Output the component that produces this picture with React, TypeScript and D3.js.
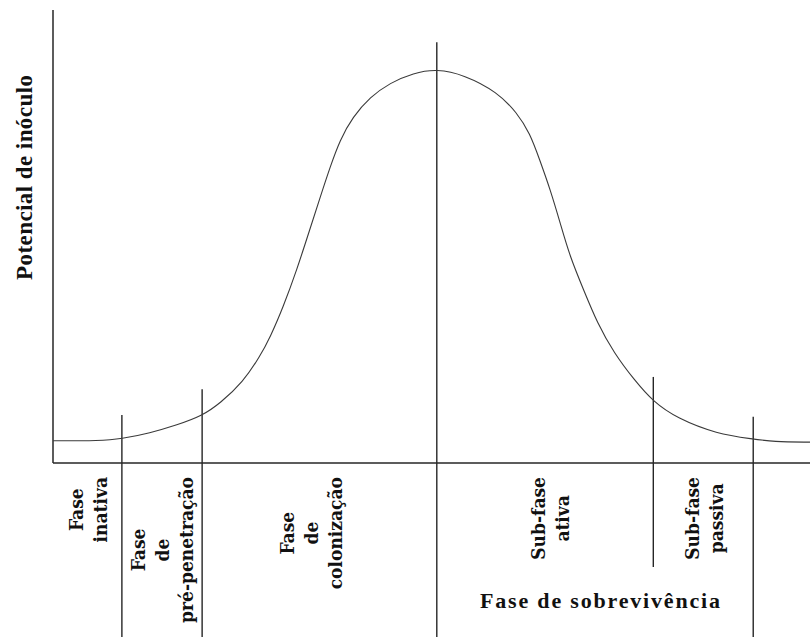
import React, { useEffect, useRef } from 'react';
import * as d3 from 'd3';

// curve: time (0-100 along the axis) vs potential (0-100 of axis height)
const curveTime = [0, 6.2, 9.0, 12.8, 16.4, 19.7, 22.1, 25.1, 27.3, 28.7, 30.4, 32.2, 33.9, 35.3, 36.6, 37.9, 39.6, 41.9, 44.5, 47.6, 50.7, 54.3, 58.7, 61.3, 63.0, 64.3, 65.7, 67.0, 68.3, 70.1, 71.9, 74.1, 76.8, 79.3, 82.4, 87.7, 92.5, 95.1, 100];
const curvePotential = [4.9, 4.9, 5.3, 6.6, 8.4, 10.4, 13.2, 17.9, 23.4, 27.8, 34.4, 42.6, 51.4, 58.7, 65.3, 71.3, 76.4, 80.8, 83.9, 86.1, 87.0, 85.7, 81.9, 77.3, 72.8, 66.9, 60.3, 53.0, 45.5, 38.2, 30.9, 24.3, 18.3, 13.5, 9.9, 6.4, 5.3, 4.7, 4.6];

// phase boundaries (time) and the height their marker line reaches (potential)
const phaseBounds = [9.1, 19.7, 50.7, 79.3, 92.5];
const boundTops = [10.6, 16.3, 92.9, 19.0, 10.2];

const phaseLabels = [
  ['Fase', 'inativa'],
  ['Fase', 'de', 'pré-penetração'],
  ['Fase', 'de', 'colonização'],
  ['Sub-fase', 'ativa'],
  ['Sub-fase', 'passiva'],
];

const yTitle = 'Potencial de inóculo';
const groupTitle = 'Fase de sobrevivência';

const serif = "'Liberation Serif', 'Times New Roman', serif";
const slab = "'DejaVu Serif Condensed', 'DejaVu Serif', serif";

const App: React.FC = () => {
  const svgRef = useRef<SVGSVGElement>(null);

  useEffect(() => {
    if (!svgRef.current) return;
    const height = 637;
    const svg = d3.select(svgRef.current);
    svg.selectAll('*').remove();

    const x = d3.scaleLinear().domain([0, 100]).range([53, 810]);
    const y = d3.scaleLinear().domain([0, 100]).range([463, 10]);
    const ink = '#262626';

    // axes
    svg.append('line')
      .attr('x1', x(0)).attr('x2', x(0))
      .attr('y1', y(100)).attr('y2', y(0))
      .attr('stroke', ink).attr('stroke-width', 1.5);
    svg.append('line')
      .attr('x1', x(0)).attr('x2', x(100))
      .attr('y1', y(0)).attr('y2', y(0))
      .attr('stroke', ink).attr('stroke-width', 1.5);

    // phase divider lines
    phaseBounds.forEach((b, i) => {
      svg.append('line')
        .attr('x1', x(b)).attr('x2', x(b))
        .attr('y1', y(boundTops[i]))
        .attr('y2', i === 3 ? 567 : height)
        .attr('stroke', ink).attr('stroke-width', 1.4);
    });

    // the curve
    const pts = curveTime.map((t, i) => [t, curvePotential[i]] as [number, number]);
    const line = d3.line<[number, number]>()
      .x(d => x(d[0]))
      .y(d => y(d[1]))
      .curve(d3.curveBasis);
    svg.append('path')
      .attr('d', line(pts))
      .attr('fill', 'none')
      .attr('stroke', '#3a3a3a')
      .attr('stroke-width', 1.1);

    // y title
    svg.append('text')
      .attr('transform', 'translate(32,177.5) rotate(-90)')
      .attr('text-anchor', 'middle')
      .style('font-family', serif)
      .style('font-weight', 'bold')
      .style('font-size', '23px')
      .attr('textLength', 205)
      .attr('lengthAdjust', 'spacing')
      .attr('fill', '#111')
      .text(yTitle);

    // phase labels, rotated, centred in each phase interval
    const starts = [0, ...phaseBounds.slice(0, -1)];
    const nudge = [1.5, 0.5, -7.5, 6, 2];
    const lineGap = 24;
    phaseLabels.forEach((lines, i) => {
      const cx = (x(starts[i]) + x(phaseBounds[i])) / 2 + nudge[i];
      const g = svg.append('g');
      const texts = lines.map((s, j) => {
        const lc = cx + (j - (lines.length - 1) / 2) * lineGap;
        return g.append('text')
          .attr('text-anchor', 'middle')
          .style('font-family', slab)
          .style('font-weight', 'bold')
          .style('font-size', '19px')
          .attr('fill', '#111')
          .attr('data-x', lc + 6)
          .text(s);
      });
      const maxLen = d3.max(texts, t => (t.node() as SVGTextElement).getComputedTextLength()) || 0;
      const cy = 477 + maxLen / 2;
      texts.forEach(t => {
        t.attr('transform', `translate(${t.attr('data-x')},${cy}) rotate(-90)`);
      });
    });

    // group title under the survival sub-phases
    svg.append('text')
      .attr('x', 600)
      .attr('y', 608)
      .attr('text-anchor', 'middle')
      .style('font-family', serif)
      .style('font-weight', 'bold')
      .style('font-size', '22px')
      .attr('textLength', 240)
      .attr('lengthAdjust', 'spacing')
      .attr('fill', '#111')
      .text(groupTitle);
  }, []);

  return (
    <div style={{ position: 'absolute', left: 0, top: 0, width: 810, height: 637, background: '#fff' }}>
      <svg ref={svgRef} width={810} height={637} style={{ display: 'block' }} />
    </div>
  );
};

export default App;
